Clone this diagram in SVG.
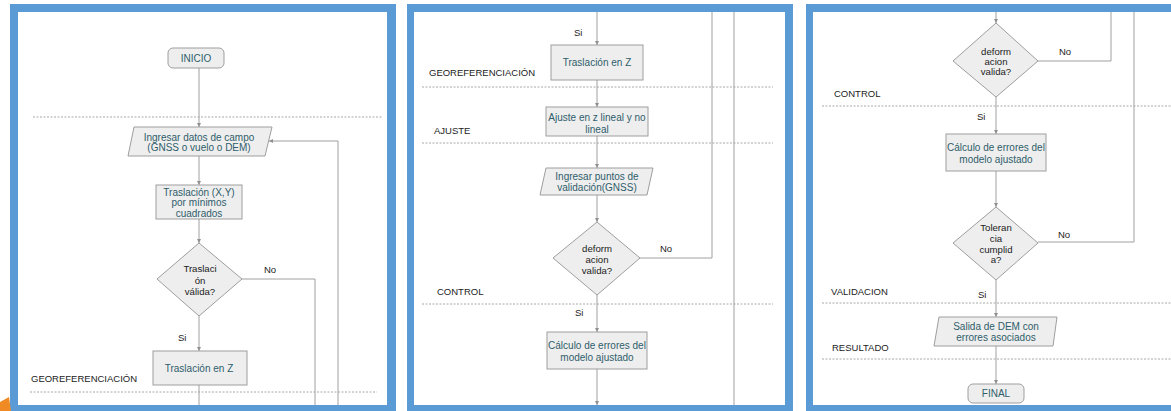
<svg xmlns="http://www.w3.org/2000/svg" width="1171" height="411" viewBox="0 0 1171 411">
<style>
.frame{fill:#5b9bd5}
.inner{fill:#ffffff}
.shape{fill:#eeeeee;stroke:#9e9e9e;stroke-width:1}
.box{font-family:"Liberation Sans",Arial,sans-serif;font-size:10px;fill:#2f5d6b;text-anchor:middle}
.dtext{font-family:"Liberation Sans",Arial,sans-serif;font-size:9.6px;fill:#222222;text-anchor:middle}
.lbl{font-family:"Liberation Sans",Arial,sans-serif;font-size:9.5px;fill:#222222}
.dash{stroke:#a8a8a8;stroke-width:1;stroke-dasharray:2,1.5;fill:none}
.conn{stroke:#a0a0a0;stroke-width:1;fill:none}
.arr{stroke:#a0a0a0;stroke-width:1;fill:none;marker-end:url(#ah)}
</style>
<defs>
<marker id="ah" viewBox="0 0 6 6" refX="6" refY="3" markerWidth="4" markerHeight="4" orient="auto" markerUnits="userSpaceOnUse">
<path d="M0,0 L6,3 L0,6 z" fill="#909090"/>
</marker>
</defs>
<rect width="1171" height="411" fill="#ffffff"/>
<g id="frames">
<rect class="frame" x="10" y="4" width="386" height="407"/>
<rect class="inner" x="18" y="12" width="369" height="393"/>
<rect class="frame" x="407" y="4" width="386" height="407"/>
<rect class="inner" x="414" y="12" width="371" height="393"/>
<rect class="frame" x="806" y="4" width="370" height="407"/>
<rect class="inner" x="813" y="12" width="360" height="393"/>
<path d="M0,402 L9,397 L11,411 L0,411 Z" fill="#f08a24"/>
</g>
<g id="lanes">
<line class="dash" x1="33" y1="117" x2="382" y2="117"/>
<line class="dash" x1="30" y1="392" x2="377" y2="392"/>
<text class="lbl" x="31" y="382">GEOREFERENCIACIÓN</text>
<line class="dash" x1="422" y1="87" x2="773" y2="87"/>
<text class="lbl" x="429" y="76">GEOREFERENCIACIÓN</text>
<line class="dash" x1="422" y1="143" x2="773" y2="143"/>
<text class="lbl" x="434" y="134">AJUSTE</text>
<line class="dash" x1="422" y1="304" x2="773" y2="304"/>
<text class="lbl" x="437" y="295">CONTROL</text>
<line class="dash" x1="822" y1="106" x2="1171" y2="106"/>
<text class="lbl" x="834" y="97">CONTROL</text>
<line class="dash" x1="822" y1="303" x2="1171" y2="303"/>
<text class="lbl" x="831" y="295">VALIDACION</text>
<line class="dash" x1="822" y1="359" x2="1171" y2="359"/>
<text class="lbl" x="832" y="351">RESULTADO</text>
</g>
<g id="connectors">
<path class="arr" d="M199,68 V127"/>
<path class="arr" d="M199,156 V185"/>
<path class="arr" d="M199,219 V243"/>
<path class="arr" d="M199,316 V351"/>
<path class="conn" d="M199,385 V405"/>
<path class="conn" d="M242,279 H315 V405"/>
<path class="arr" d="M338,405 V141 H269"/>
<text class="lbl" x="264" y="273">No</text>
<text class="lbl" x="178" y="341">Si</text>
<path class="arr" d="M597,12 V45"/>
<path class="arr" d="M597,80 V107"/>
<path class="arr" d="M597,136 V168"/>
<path class="arr" d="M597,195 V222"/>
<path class="arr" d="M597,295 V332"/>
<path class="arr" d="M597,369 V405"/>
<path class="conn" d="M639,258 H712 V12"/>
<path class="conn" d="M734,12 V405"/>
<text class="lbl" x="574" y="36">Si</text>
<text class="lbl" x="660" y="252">No</text>
<text class="lbl" x="575" y="316">Si</text>
<path class="arr" d="M996,12 V23"/>
<path class="arr" d="M996,97 V134"/>
<path class="arr" d="M996,171 V207"/>
<path class="arr" d="M996,280 V317"/>
<path class="arr" d="M996,346 V384"/>
<path class="conn" d="M1038,61 H1111 V12"/>
<path class="conn" d="M1038,242 H1134 V12"/>
<text class="lbl" x="1059" y="55">No</text>
<text class="lbl" x="977" y="120">Si</text>
<text class="lbl" x="1058" y="238">No</text>
<text class="lbl" x="978" y="298">Si</text>
</g>
<g id="inicio">
<rect class="shape" x="168" y="48" width="56" height="20" rx="5"/>
<text class="box" x="196" y="61.5">INICIO</text>
</g>
<g id="ingresar-datos">
<polygon class="shape" points="134,127 272,127 265,156 128,156"/>
<text class="box" x="199" y="140.5">Ingresar datos de campo</text>
<text class="box" x="199" y="151">(GNSS o vuelo o DEM)</text>
</g>
<g id="traslacion-xy">
<rect class="shape" x="156" y="185" width="86" height="34"/>
<text class="box" x="199" y="195.5">Traslación (X,Y)</text>
<text class="box" x="199" y="206">por mínimos</text>
<text class="box" x="199" y="216.5">cuadrados</text>
</g>
<g id="traslacion-valida">
<polygon class="shape" points="199,243 242,279 199,316 157,279"/>
<text class="dtext" x="200" y="272">Traslaci</text>
<text class="dtext" x="200" y="283.5">ón</text>
<text class="dtext" x="200" y="295">válida?</text>
</g>
<g id="traslacion-z-1">
<rect class="shape" x="153" y="351" width="94" height="34"/>
<text class="box" x="199" y="372">Traslación en Z</text>
</g>
<g id="traslacion-z-2">
<rect class="shape" x="551" y="45" width="92" height="35"/>
<text class="box" x="597" y="66">Traslación en Z</text>
</g>
<g id="ajuste">
<rect class="shape" x="546" y="107" width="102" height="29"/>
<text class="box" x="597" y="121">Ajuste en z lineal y no</text>
<text class="box" x="597" y="133">lineal</text>
</g>
<g id="ingresar-puntos">
<polygon class="shape" points="546,168 653,168 647,195 540,195"/>
<text class="box" x="597" y="179.5">Ingresar puntos de</text>
<text class="box" x="597" y="190.5">validación(GNSS)</text>
</g>
<g id="deformacion-1">
<polygon class="shape" points="597,222 640,258 597,295 553,258"/>
<text class="dtext" x="597" y="252">deform</text>
<text class="dtext" x="597" y="263">acion</text>
<text class="dtext" x="597" y="274">valida?</text>
</g>
<g id="calculo-1">
<rect class="shape" x="547" y="332" width="100" height="37"/>
<text class="box" x="597" y="349">Cálculo de errores del</text>
<text class="box" x="597" y="360.5">modelo ajustado</text>
</g>
<g id="deformacion-2">
<polygon class="shape" points="996,23 1038,61 996,97 953,61"/>
<text class="dtext" x="996" y="55">deform</text>
<text class="dtext" x="996" y="65">acion</text>
<text class="dtext" x="996" y="75">valida?</text>
</g>
<g id="calculo-2">
<rect class="shape" x="946" y="134" width="100" height="37"/>
<text class="box" x="996" y="151">Cálculo de errores del</text>
<text class="box" x="996" y="162.5">modelo ajustado</text>
</g>
<g id="tolerancia">
<polygon class="shape" points="996,207 1038,243 996,280 953,243"/>
<text class="dtext" x="996" y="231">Toleran</text>
<text class="dtext" x="996" y="242">cia</text>
<text class="dtext" x="996" y="252.5">cumplid</text>
<text class="dtext" x="996" y="263">a?</text>
</g>
<g id="salida">
<polygon class="shape" points="939,317 1057,317 1053,346 934,346"/>
<text class="box" x="996" y="330">Salida de DEM con</text>
<text class="box" x="996" y="340.5">errores asociados</text>
</g>
<g id="final">
<rect class="shape" x="968" y="384" width="56" height="19" rx="5"/>
<text class="box" x="996" y="397">FINAL</text>
</g>
</svg>
